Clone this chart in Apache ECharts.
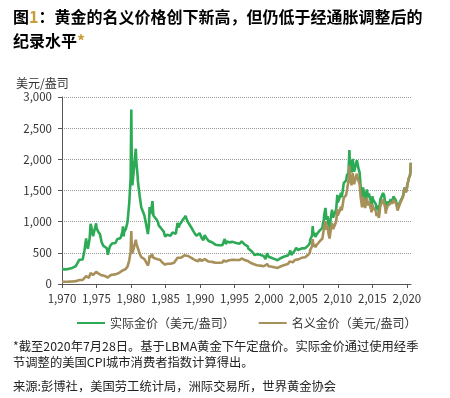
<!DOCTYPE html>
<html>
<head>
<meta charset="utf-8">
<script src="https://cdn.jsdelivr.net/npm/echarts@6/dist/echarts.min.js"></script>
<style>
  html, body { margin: 0; padding: 0; background: #fff; }
  #chart { width: 450px; height: 398px; }
</style>
</head>
<body>
<div id="chart"></div>
<script>
// 实际金价（美元/盎司），[年份, 价格]
var realGold = [
  [1970, 239], [1970.25, 240], [1970.5, 235], [1970.75, 240],
  [1971, 243], [1971.25, 251], [1971.5, 258], [1971.75, 269],
  [1972, 288], [1972.25, 302], [1972.5, 389], [1972.75, 397],
  [1973, 394], [1973.25, 534], [1973.5, 730], [1973.6, 632], [1973.75, 567], [1973.9, 560],
  [1974, 722], [1974.15, 965], [1974.25, 920], [1974.5, 765], [1974.75, 797], [1974.95, 975],
  [1975, 900], [1975.25, 838], [1975.5, 800], [1975.75, 669],
  [1976, 611], [1976.25, 594], [1976.5, 574], [1976.65, 470], [1976.75, 521], [1976.95, 605],
  [1977, 590], [1977.25, 651], [1977.5, 619], [1977.75, 659], [1977.95, 679],
  [1978, 719], [1978.25, 722], [1978.5, 738], [1978.75, 836], [1978.85, 924], [1978.95, 762],
  [1979, 834], [1979.25, 881], [1979.5, 994], [1979.75, 1300], [1979.85, 1314], [1979.95, 1693],
  [1980.05, 2800], [1980.1, 2126], [1980.2, 1583], [1980.3, 1696], [1980.5, 1941], [1980.7, 2170], [1980.8, 1933], [1980.95, 1752],
  [1981, 1652], [1981.25, 1421], [1981.5, 1226], [1981.75, 1200], [1981.95, 1100],
  [1982, 1069], [1982.25, 925], [1982.45, 800], [1982.6, 942], [1982.7, 1233], [1982.8, 1121], [1982.95, 1197],
  [1983.05, 1270], [1983.12, 1330], [1983.25, 1100], [1983.5, 1092], [1983.75, 1028], [1983.95, 982],
  [1984, 944], [1984.25, 970], [1984.5, 875], [1984.75, 840], [1984.95, 760],
  [1985.15, 732], [1985.25, 790], [1985.5, 768], [1985.75, 774], [1985.95, 779],
  [1986, 826], [1986.25, 799], [1986.5, 807], [1986.75, 979], [1986.95, 905],
  [1987, 940], [1987.25, 966], [1987.5, 1026], [1987.75, 1035], [1987.95, 1093],
  [1988, 1059], [1988.25, 995], [1988.5, 964], [1988.75, 907], [1988.95, 899],
  [1989, 856], [1989.25, 812], [1989.5, 773], [1989.75, 752], [1989.95, 816],
  [1990, 832], [1990.25, 740], [1990.5, 703], [1990.7, 784], [1990.95, 733],
  [1991, 733], [1991.25, 691], [1991.5, 694], [1991.75, 669], [1991.95, 684],
  [1992, 664], [1992.25, 631], [1992.5, 635], [1992.75, 621], [1992.95, 600],
  [1993, 597], [1993.25, 621], [1993.45, 681], [1993.6, 723], [1993.75, 641], [1993.95, 682],
  [1994, 681], [1994.25, 668], [1994.5, 672], [1994.75, 676], [1994.95, 658],
  [1995, 654], [1995.25, 658], [1995.5, 653], [1995.75, 646], [1995.95, 646],
  [1996.05, 684], [1996.25, 652], [1996.5, 632], [1996.75, 623], [1996.95, 604],
  [1997, 571], [1997.25, 560], [1997.5, 525], [1997.75, 514], [1997.95, 464],
  [1998, 472], [1998.25, 479], [1998.5, 469], [1998.75, 468], [1998.95, 458],
  [1999, 450], [1999.25, 447], [1999.5, 400], [1999.75, 494], [1999.95, 437],
  [2000, 436], [2000.1, 464], [2000.25, 425], [2000.5, 429], [2000.75, 403], [2000.95, 403],
  [2001, 392], [2001.25, 381], [2001.5, 394], [2001.75, 418], [2001.95, 404],
  [2002, 412], [2002.25, 442], [2002.5, 454], [2002.75, 458], [2002.95, 491],
  [2003, 511], [2003.1, 538], [2003.25, 466], [2003.5, 492], [2003.75, 538], [2003.95, 578],
  [2004, 570], [2004.25, 545], [2004.35, 530], [2004.5, 541], [2004.75, 571], [2004.95, 595],
  [2005, 574], [2005.25, 575], [2005.5, 563], [2005.75, 624], [2005.95, 665],
  [2006, 715], [2006.25, 776], [2006.35, 929], [2006.45, 772], [2006.6, 820], [2006.75, 754], [2006.95, 801],
  [2007, 813], [2007.25, 843], [2007.5, 822], [2007.75, 900], [2007.85, 982], [2007.95, 1015],
  [2008, 1098], [2008.2, 1220], [2008.35, 1027], [2008.5, 1088], [2008.65, 936], [2008.8, 869], [2008.95, 1049],
  [2009, 1049], [2009.15, 1191], [2009.3, 1065], [2009.5, 1121], [2009.75, 1198], [2009.92, 1430], [2009.98, 1309],
  [2010, 1309], [2010.15, 1318], [2010.3, 1397], [2010.45, 1463], [2010.55, 1391], [2010.7, 1494], [2010.85, 1619], [2010.97, 1650],
  [2011, 1591], [2011.2, 1662], [2011.35, 1769], [2011.5, 1725], [2011.6, 1948], [2011.67, 2150], [2011.75, 1847], [2011.85, 1988], [2011.97, 1787],
  [2012, 1865], [2012.15, 2008], [2012.35, 1802], [2012.5, 1789], [2012.75, 1986], [2012.85, 1930], [2012.97, 1859],
  [2013, 1870], [2013.15, 1787], [2013.3, 1560], [2013.45, 1422], [2013.5, 1365], [2013.65, 1550], [2013.75, 1470], [2013.95, 1343],
  [2014, 1364], [2014.2, 1518], [2014.4, 1386], [2014.5, 1452], [2014.65, 1430], [2014.8, 1320], [2014.88, 1265], [2014.95, 1320],
  [2015, 1408], [2015.1, 1352], [2015.3, 1316], [2015.5, 1281], [2015.6, 1192], [2015.75, 1257], [2015.95, 1155],
  [2016, 1199], [2016.15, 1356], [2016.35, 1361], [2016.55, 1461], [2016.7, 1423], [2016.85, 1310], [2016.95, 1200],
  [2017, 1251], [2017.2, 1320], [2017.3, 1349], [2017.45, 1282], [2017.65, 1361], [2017.75, 1348], [2017.9, 1323], [2017.97, 1353],
  [2018.05, 1403], [2018.2, 1378], [2018.4, 1342], [2018.55, 1276], [2018.65, 1212], [2018.8, 1229], [2018.97, 1307],
  [2019.05, 1315], [2019.25, 1299], [2019.45, 1415], [2019.6, 1512], [2019.7, 1549], [2019.85, 1474], [2019.97, 1512],
  [2020.05, 1580], [2020.2, 1600], [2020.3, 1700], [2020.45, 1740], [2020.52, 1800], [2020.57, 1945]
];

// 名义金价（美元/盎司），[年份, 价格]
var nominalGold = [
  [1970, 35], [1970.25, 35.5], [1970.5, 35.3], [1970.75, 36.5],
  [1971, 37.5], [1971.25, 39], [1971.5, 40.5], [1971.75, 42.5],
  [1972, 46], [1972.25, 48.5], [1972.5, 63], [1972.75, 65],
  [1973, 65], [1973.25, 90], [1973.5, 125], [1973.6, 110], [1973.75, 100], [1973.9, 100],
  [1974, 130], [1974.15, 177], [1974.25, 170], [1974.5, 145], [1974.75, 155], [1974.95, 194],
  [1975, 180], [1975.25, 170], [1975.5, 165], [1975.75, 140],
  [1976, 130], [1976.25, 128], [1976.5, 125], [1976.65, 104], [1976.75, 115], [1976.95, 135],
  [1977, 132], [1977.25, 148], [1977.5, 143], [1977.75, 155], [1977.95, 162],
  [1978, 172], [1978.25, 177], [1978.5, 185], [1978.75, 215], [1978.85, 240], [1978.95, 200],
  [1979, 220], [1979.25, 240], [1979.5, 280], [1979.75, 380], [1979.85, 390], [1979.95, 510],
  [1980.05, 850], [1980.1, 650], [1980.2, 490], [1980.3, 530], [1980.5, 620], [1980.7, 710], [1980.8, 640], [1980.95, 590],
  [1981, 560], [1981.25, 490], [1981.5, 430], [1981.75, 430], [1981.95, 400],
  [1982, 390], [1982.25, 340], [1982.45, 297], [1982.6, 350], [1982.7, 460], [1982.8, 420], [1982.95, 450],
  [1983.05, 480], [1983.12, 505], [1983.25, 420], [1983.5, 420], [1983.75, 400], [1983.95, 385],
  [1984, 370], [1984.25, 385], [1984.5, 350], [1984.75, 340], [1984.95, 310],
  [1985.15, 300], [1985.25, 325], [1985.5, 320], [1985.75, 325], [1985.95, 330],
  [1986, 350], [1986.25, 340], [1986.5, 345], [1986.75, 420], [1986.95, 390],
  [1987, 405], [1987.25, 420], [1987.5, 450], [1987.75, 460], [1987.95, 490],
  [1988, 475], [1988.25, 450], [1988.5, 440], [1988.75, 420], [1988.95, 420],
  [1989, 400], [1989.25, 385], [1989.5, 370], [1989.75, 365], [1989.95, 400],
  [1990, 410], [1990.25, 370], [1990.5, 355], [1990.7, 400], [1990.95, 380],
  [1991, 380], [1991.25, 360], [1991.5, 365], [1991.75, 355], [1991.95, 365],
  [1992, 355], [1992.25, 340], [1992.5, 345], [1992.75, 340], [1992.95, 334],
  [1993, 330], [1993.25, 345], [1993.45, 380], [1993.6, 405], [1993.75, 360], [1993.95, 385],
  [1994, 385], [1994.25, 380], [1994.5, 385], [1994.75, 390], [1994.95, 382],
  [1995, 380], [1995.25, 385], [1995.5, 385], [1995.75, 384], [1995.95, 386],
  [1996.05, 410], [1996.25, 393], [1996.5, 383], [1996.75, 380], [1996.95, 370],
  [1997, 350], [1997.25, 345], [1997.5, 325], [1997.75, 320], [1997.95, 290],
  [1998, 295], [1998.25, 300], [1998.5, 295], [1998.75, 295], [1998.95, 290],
  [1999, 285], [1999.25, 285], [1999.5, 255], [1999.75, 320], [1999.95, 285],
  [2000, 285], [2000.1, 305], [2000.25, 280], [2000.5, 285], [2000.75, 270], [2000.95, 272],
  [2001, 265], [2001.25, 258], [2001.5, 268], [2001.75, 285], [2001.95, 277],
  [2002, 282], [2002.25, 305], [2002.5, 315], [2002.75, 320], [2002.95, 345],
  [2003, 360], [2003.1, 380], [2003.25, 330], [2003.5, 350], [2003.75, 385], [2003.95, 415],
  [2004, 410], [2004.25, 395], [2004.35, 385], [2004.5, 395], [2004.75, 420], [2004.95, 440],
  [2005, 425], [2005.25, 430], [2005.5, 425], [2005.75, 475], [2005.95, 510],
  [2006, 550], [2006.25, 600], [2006.35, 720], [2006.45, 600], [2006.6, 640], [2006.75, 590], [2006.95, 630],
  [2007, 640], [2007.25, 670], [2007.5, 660], [2007.75, 730], [2007.85, 800], [2007.95, 830],
  [2008, 900], [2008.2, 1010], [2008.35, 870], [2008.5, 930], [2008.65, 800], [2008.8, 730], [2008.95, 860],
  [2009, 860], [2009.15, 980], [2009.3, 880], [2009.5, 930], [2009.75, 1000], [2009.92, 1200], [2009.98, 1100],
  [2010, 1100], [2010.15, 1110], [2010.3, 1180], [2010.45, 1240], [2010.55, 1180], [2010.7, 1270], [2010.85, 1380], [2010.97, 1410],
  [2011, 1360], [2011.2, 1430], [2011.35, 1530], [2011.5, 1500], [2011.6, 1700], [2011.67, 1895], [2011.75, 1620], [2011.85, 1750], [2011.97, 1580],
  [2012, 1650], [2012.15, 1780], [2012.35, 1600], [2012.5, 1590], [2012.75, 1770], [2012.85, 1720], [2012.97, 1660],
  [2013, 1670], [2013.15, 1600], [2013.3, 1400], [2013.45, 1280], [2013.5, 1230], [2013.65, 1400], [2013.75, 1330], [2013.95, 1220],
  [2014, 1240], [2014.2, 1380], [2014.4, 1260], [2014.5, 1320], [2014.65, 1300], [2014.8, 1200], [2014.88, 1150], [2014.95, 1200],
  [2015, 1280], [2015.1, 1230], [2015.3, 1200], [2015.5, 1170], [2015.6, 1090], [2015.75, 1150], [2015.95, 1060],
  [2016, 1100], [2016.15, 1250], [2016.35, 1260], [2016.55, 1360], [2016.7, 1330], [2016.85, 1230], [2016.95, 1130],
  [2017, 1180], [2017.2, 1250], [2017.3, 1280], [2017.45, 1220], [2017.65, 1300], [2017.75, 1290], [2017.9, 1270], [2017.97, 1300],
  [2018.05, 1350], [2018.2, 1330], [2018.4, 1300], [2018.55, 1240], [2018.65, 1180], [2018.8, 1200], [2018.97, 1280],
  [2019.05, 1290], [2019.25, 1280], [2019.45, 1400], [2019.6, 1500], [2019.7, 1540], [2019.85, 1470], [2019.97, 1510],
  [2020.05, 1580], [2020.2, 1600], [2020.3, 1700], [2020.45, 1740], [2020.52, 1800], [2020.57, 1945]
];

var yearTicks = [1970, 1975, 1980, 1985, 1990, 1995, 2000, 2005, 2010, 2015, 2020];

var GREEN = '#2daa55';
var TAN = '#a8905a';
var FONT = '"Noto Sans CJK SC", "Noto Sans", sans-serif';

var chart = echarts.init(document.getElementById('chart'), null, { renderer: 'canvas' });

var option = {
  animation: false,
  textStyle: { fontFamily: FONT },
  grid: {
    left: 62,
    top: 97,
    width: 349,
    height: 187
  },
  legend: {
    left: 72,
    top: 312,
    itemGap: 24,
    itemWidth: 28,
    itemHeight: 2,
    icon: 'rect',
    textStyle: { fontSize: 12, color: '#333', fontFamily: FONT },
    data: ['实际金价（美元/盎司）', '名义金价（美元/盎司）']
  },
  xAxis: {
    type: 'value',
    min: 1970,
    max: 2020.6,
    interval: 5,
    axisLine: { lineStyle: { color: '#555', width: 1 } },
    axisTick: { show: true, length: 4, lineStyle: { color: '#555' }, customValues: yearTicks },
    axisLabel: { color: '#333', fontSize: 11.5, margin: 9, customValues: yearTicks },
    splitLine: { show: false }
  },
  yAxis: {
    type: 'value',
    min: 0,
    max: 3000,
    interval: 500,
    axisLine: { show: true, lineStyle: { color: '#555', width: 1 } },
    axisTick: { show: true, length: 4, lineStyle: { color: '#555' } },
    axisLabel: {
      color: '#333', fontSize: 11.5, margin: 10,
      formatter: function (v) { return v.toLocaleString('en-US'); }
    },
    splitLine: { show: true, lineStyle: { color: '#9a9a9a', type: [1, 1], width: 1 } }
  },
  series: [
    {
      name: '实际金价（美元/盎司）',
      type: 'line',
      data: realGold,
      showSymbol: false,
      lineStyle: { color: GREEN, width: 2.6 },
      itemStyle: { color: GREEN }
    },
    {
      name: '名义金价（美元/盎司）',
      type: 'line',
      data: nominalGold,
      showSymbol: false,
      lineStyle: { color: TAN, width: 2.6 },
      itemStyle: { color: TAN }
    }
  ],
  graphic: [
    {
      type: 'text', left: 13, top: 5,
      style: {
        text: '{a|图}{b|1}{a|：黄金的名义价格创下新高，但仍低于经通胀调整后的}\n{a|纪录水平}{b|*}',
        lineHeight: 24,
        rich: {
          a: { fontSize: 16, fontWeight: 'bold', fill: '#000', fontFamily: FONT, lineHeight: 24 },
          b: { fontSize: 16, fontWeight: 'bold', fill: '#c9a036', fontFamily: FONT, lineHeight: 24 }
        }
      }
    },
    {
      type: 'text', left: 16, top: 77,
      style: { text: '美元/盎司', fontSize: 12, fill: '#333', fontFamily: FONT }
    },
    {
      type: 'text', left: 13, top: 338,
      style: {
        text: '*截至2020年7月28日。基于LBMA黄金下午定盘价。实际金价通过使用经季\n节调整的美国CPI城市消费者指数计算得出。',
        fontSize: 12.3, lineHeight: 16, fill: '#222', fontFamily: FONT
      }
    },
    {
      type: 'text', left: 13, top: 380,
      style: {
        text: '来源:彭博社，美国劳工统计局，洲际交易所，世界黄金协会',
        fontSize: 12.3, fill: '#222', fontFamily: FONT
      }
    }
  ]
};

chart.setOption(option);
window.addEventListener('resize', function () {
  chart.resize();
});
</script>
</body>
</html>
